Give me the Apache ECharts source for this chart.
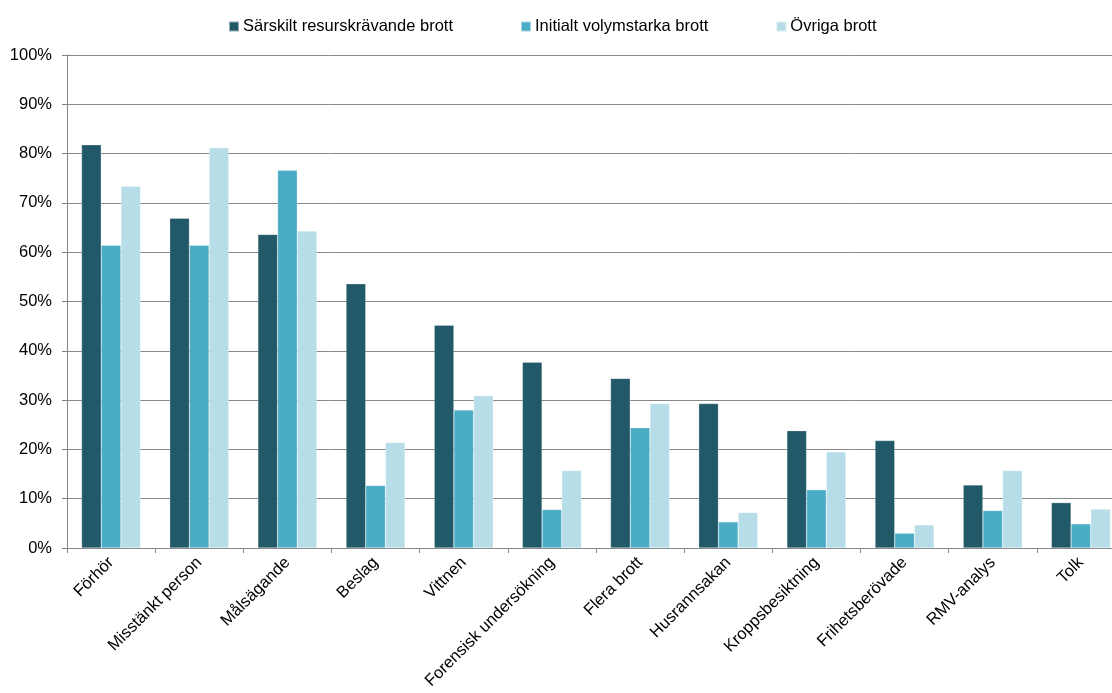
<!DOCTYPE html>
<html>
<head>
<meta charset="utf-8">
<script src="https://cdn.jsdelivr.net/npm/echarts@6/dist/echarts.min.js"></script>
<style>
html,body{margin:0;padding:0;background:#fff;}
#chart{width:1112px;height:693px;}
</style>
</head>
<body>
<div id="chart"></div>
<script>
const categories = ["Förhör","Misstänkt person","Målsägande","Beslag","Vittnen","Forensisk undersökning","Flera brott","Husrannsakan","Kroppsbesiktning","Frihetsberövade","RMV-analys","Tolk"];
const seriesNames = ["Särskilt resurskrävande brott","Initialt volymstarka brott","Övriga brott"];
const sarskilt = [81.8, 66.9, 63.6, 53.6, 45.2, 37.7, 34.4, 29.3, 23.8, 21.8, 12.8, 9.2];
const initialt = [61.4, 61.4, 76.6, 12.7, 28.0, 7.8, 24.4, 5.3, 11.8, 3.0, 7.6, 4.9];
const ovriga = [73.4, 81.2, 64.3, 21.4, 30.9, 15.7, 29.3, 7.2, 19.5, 4.7, 15.7, 7.9];
const yTicks = [0,10,20,30,40,50,60,70,80,90,100];
const colors = ["#215968","#4BACC6","#B7DEE8"];

const chart = echarts.init(document.getElementById('chart'), null, {renderer:'canvas'});
const font = "'Liberation Sans', Arial, sans-serif";
const data = [sarskilt, initialt, ovriga];
chart.setOption({
  animation:false,
  color: colors,
  textStyle:{fontFamily:font},
  legend:{
    top: 13,
    left: 223,
    itemWidth: 10,
    itemHeight: 10,
    itemGap: 67,
    icon: 'rect',
    textStyle:{fontFamily:font,fontSize:16.5,color:'#000',padding:[0,0,0,-1]},
    data: seriesNames
  },
  grid:{left:67,right:-13,top:55,bottom:145,containLabel:false,outerBoundsMode:'none'},
  xAxis:{
    type:'category',
    data: categories,
    axisLine:{lineStyle:{color:'#868686',width:1}},
    axisTick:{show:true,length:5,lineStyle:{color:'#868686'}},
    axisLabel:{rotate:45,fontSize:16.5,color:'#000',fontFamily:font,margin:12,interval:0}
  },
  yAxis:{
    type:'value',
    min: yTicks[0],
    max: yTicks[yTicks.length-1],
    interval: yTicks[1]-yTicks[0],
    axisLine:{show:true,lineStyle:{color:'#868686',width:1}},
    axisTick:{show:true,length:5,lineStyle:{color:'#868686'}},
    splitLine:{show:true,lineStyle:{color:'#878787',width:1}},
    axisLabel:{formatter:'{value}%',fontSize:16.5,color:'#000',fontFamily:font,margin:15}
  },
  series: seriesNames.map((n,i)=>({
    name:n,
    type:'bar',
    data:data[i],
    barGap:'0%',
    barCategoryGap:'33%',
    itemStyle:{color:colors[i],borderColor:'rgba(255,255,255,0.5)',borderWidth:0.5}
  }))
});
</script>
</body>
</html>
